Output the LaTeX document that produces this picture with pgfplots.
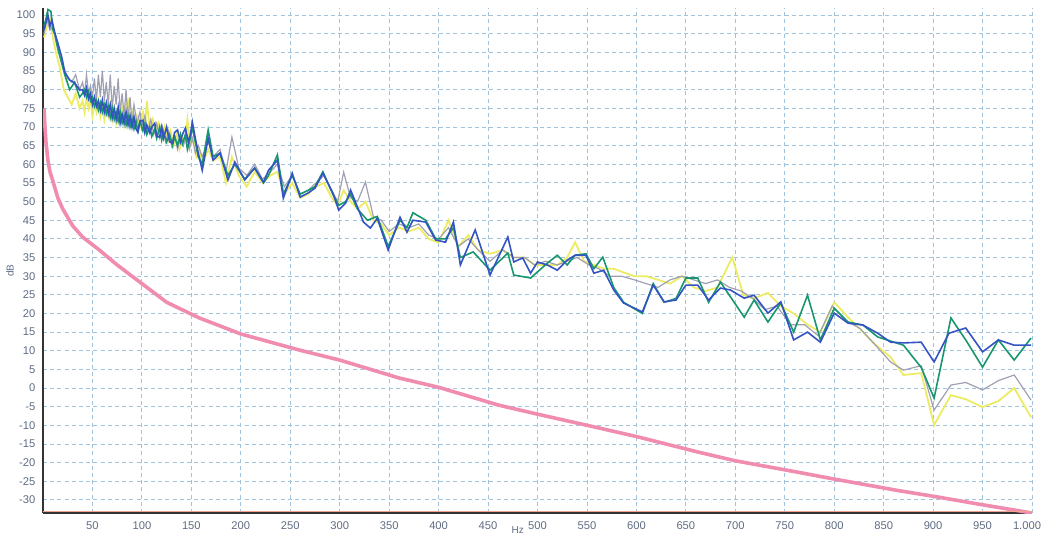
\documentclass[border=0pt]{standalone}
\usepackage{fontspec}
\setmainfont{Liberation Sans}
\usepackage{pgfplots}
\pgfplotsset{compat=1.18}
\definecolor{cblue}{RGB}{52,84,196}
\definecolor{cgreen}{RGB}{24,150,110}
\definecolor{cgray}{RGB}{160,160,178}
\definecolor{cyellow}{RGB}{236,236,100}
\definecolor{cpink}{RGB}{240,140,175}
\definecolor{gridc}{RGB}{160,196,222}
\definecolor{tickc}{RGB}{95,108,132}
\definecolor{salmon}{RGB}{240,160,140}
\begin{document}
\begin{tikzpicture}
\useasboundingbox (0,0) rectangle (521.5pt,267.5pt);
\begin{axis}[
  at={(21.5pt,11pt)}, anchor=south west,
  scale only axis, width=494.5pt, height=252.5pt,
  xmin=0, xmax=1000, ymin=-33.5, ymax=101.9,
  axis x line*=bottom, axis y line*=left,
  axis line style={line width=1.2pt, color=black!80, -},
  xtick={50,100,...,950}, ytick={-30,-25,...,100},
  extra x ticks={1000},
  extra x tick style={xticklabel style={anchor=north, xshift=-2.5pt}},
  major tick length=0pt,
  grid=major,
  grid style={color=gridc, line width=0.45pt, dash pattern=on 2pt off 1.6pt},
  /pgf/number format/1000 sep={.},
  /pgf/number format/assume math mode=true,
  tick label style={font=\fontsize{5.6}{6.5}\selectfont, text=tickc},
  xticklabel style={yshift=-0.8pt},
  yticklabel style={xshift=-0.3pt},
  xlabel={Hz}, ylabel={dB},
  xlabel style={font=\fontsize{5}{6}\selectfont, text=tickc, at={(axis description cs:0.48,0)}, anchor=center, yshift=-8.3pt},
  ylabel style={font=\fontsize{5}{6}\selectfont, text=tickc, at={(axis description cs:-0.0334,0.48)}, anchor=center},
  clip=true,
]
% yellow
\addplot[color=cyellow, line width=0.9pt] coordinates {
(1,94)(4,97)(7,99)(10,94)(13,90)(17,86)(21,80)(25,78)(29,76)(33,79)(37,75)
(40,77)(42,74)(44,78)(46,75)(48,77)(50,73)(52,76)(54,74)(56,77)(58,73)(60,76)(62,72)(64,75)(66,73)(68,76)(70,72)(72,75)(74,71)(76,74)(78,72)(80,75)(82,71)(84,76)(86,77)(88,72)(90,74)(92,70)(95,73)(98,70)(101,74)(103,70)(105,77)(108,69)(111,72)(114,68)(117,71)(120,67)(123,70)(126,66)(129,69)(132,65)(135,68)(138,64)(141,67)(144,66)(146,72)(149,65)(152,67)(155,62)(158,64)
(161,60)(167,64)(172,61)(179,62)(185,55)(191,62)(198,57)(206,54)(214,58)(222,55)(230,57)(237,58)(244,52)(252,55)(260,51)(268,52)(276,54)(284,55)(292,51)(298,49)(304,53)(311,50)(318,48)(326,50)(334,45)(342,44)(350,41)(360,43)(370,42)(380,43)(390,40)(400,39)(410,45)(420,38)(430,41)(440,37)(452,36)(465,37)(476,35)(487,35)(497,33)(508,33)(520,33)(530,35)(538,39.1)(547,34)(557,33)(567,32)(577,32)(587,31)(598,30)(610,30)(622,29)(634,28)(646,30)(658,27)(670,26)(682,27)(697,35.1)(708,25)(718,24)(733,25.5)(746,22)(759,20)(773,17)(786,15)(800,23)(814,19)(829,15)(840,12)(857,8.3)(870,3.5)(888,4)(901,-9.9)(918,-1.9)(933,-3)(950,-5.1)(966,-3.5)(982,0)(999,-7.8)
};
% gray
\addplot[color=cgray, line width=0.6pt] coordinates {
(1,95)(4,99)(7,96)(10,97)(13,93)(17,89)(21,86)(25,83)(29,82)(33,84)(37,80)
(40,82)(42,79)(44,84)(46,79)(48,81)(50,78)(52,83)(54,77)(56,84)(58,78)(60,85)(62,77)(64,82)(66,76)(68,84)(70,75)(72,81)(74,76)(76,83)(78,74)(80,79)(82,73)(84,80)(86,72)(88,78)(90,71)(92,76)(95,71)(98,74)(100,70)(103,73)(106,69)(109,72)(112,68)(115,71)(118,67)(121,70)(124,66)(127,69)(130,65)(133,68)(136,64)(139,67)(142,65)(145,68)(148,64)(151,67)(154,63)(157,65)
(161,62)(167,66)(172,62)(179,64)(185,58)(191,67.3)(198,59)(206,57)(214,60)(222,56)(230,58)(237,60)(244,54)(252,57)(260,52)(268,53)(276,55)(284,57)(292,53)(298,50)(304,57.9)(311,51)(318,50)(326,55.2)(334,46)(342,45)(350,42)(360,44)(370,43)(380,44)(390,41)(400,40)(410,43)(420,38)(430,40)(440,37)(452,34)(465,37)(476,35)(487,35)(497,33)(508,34)(520,33)(530,34)(540,35)(552,33)(562,32)(573,30)(585,30)(598,29)(610,28)(622,27)(634,29)(646,30)(658,29)(670,28)(682,29)(694,27)(706,26)(718,24)(730,21)(742,22)(756,17)(770,17)(784,14)(798,22)(812,18)(826,16)(840,12)(857,7)(870,4.8)(888,6)(901,-5.9)(918,0.8)(933,1.5)(950,-0.5)(966,2)(982,3.5)(999,-3.2)
};
% green
\addplot[color=cgreen, line width=0.8pt] coordinates {
(1,97)(3,99)(5,101.5)(8,101)(10,96)(12,95)(15,91)(19,87)(22,84)(27,80)(32,82)(37,78)
(40,79)(42,80)(44,78)(46,79.5)(48,77)(50,78)(52,75.5)(54,77)(56,74.5)(58,76.5)(60,74)(62,76)(64,73.5)(66,75.5)(68,72.5)(70,75)(72,72)(74,74)(76,71.5)(78,74)(80,71)(82,73)(84,70.5)(86,73)(88,70)(90,72)(92,69.5)(94,71.5)(96,69)(98,71.5)(101,69)(103,71)(105,68)(108,70)(110,67.5)(113,69.5)(115,67)(118,70)(120,66.5)(122,68.5)(125,66)(128,68)(131,65)(133,67.5)(136,65)(139,68)(141,65.5)(144,68)(146,64)(149,67)(151,70)(154,66)(157,62)
(161,60)(167,69.2)(172,62)(179,63)(187,57)(194,60)(204,56)(214,59)(223,55)(228,57)(237,62.5)(243,52)(252,57)(260,52)(268,53)(275,54)(283,58)(293,52)(299,49)(306,50)(311,52)(318,48)(328,45)(338,46)(349,38)(361,45)(368,43)(374,47)(387,45)(397,40)(407,40)(415,43)(422,35)(435,36.5)(452,31.6)(470,36.2)(476,30.3)(493,29.5)(510,33.5)(520,35.6)(530,33)(538,35.6)(549,36)(557,32)(566,35.1)(577,27)(587,23)(606,20)(617,28)(628,23)(640,24)(650,29.5)(662,29.5)(673,23)(685,28.4)(709,19)(719,23.6)(733,17.7)(746,22.8)(759,15)(773,24.9)(786,12.9)(800,21.4)(814,17.7)(829,16.9)(844,13.7)(870,11.5)(888,5.5)(901,-2.7)(918,18.8)(933,12.9)(950,5.6)(966,12.9)(982,7.5)(999,13.4)
};
% blue
\addplot[color=cblue, line width=0.8pt] coordinates {
(1,96)(3,98)(5,100)(7,97)(9,98.7)(12,95.2)(15,92.5)(19,88.7)(22,84.7)(27,82.6)(32,81.8)(37,79.9)
(40,80)(42,78.5)(44,80.5)(46,77.5)(48,79)(50,76)(52,78)(54,75.5)(56,77)(58,74.5)(60,77.2)(62,74)(64,76.5)(66,73.5)(68,76)(70,72.4)(72,75)(74,72)(76,75.3)(78,71)(80,73.5)(82,71)(84,74)(86,70.5)(88,73)(90,70)(92,72.7)(94,69.5)(96,68.6)(98,71.5)(101,71.8)(103,68.5)(105,70.5)(108,68.4)(110,70)(113,71)(115,67.5)(118,67.3)(120,70)(122,67)(125,70)(128,66)(131,65.7)(133,68.5)(136,69.2)(139,66)(141,68)(144,69.7)(147,66)(149,68)(151,71.3)(154,67)(157,63)
(161,58.4)(167,67)(172,61.1)(179,63)(187,55.8)(194,60.6)(204,55.8)(214,59)(223,55.2)(228,58.4)(237,61.1)(243,50.9)(252,57.6)(260,51.2)(268,52.3)(275,53.6)(283,57.6)(293,52.3)(299,47.7)(306,49.6)(311,53.1)(318,48.5)(324,44.5)(331,42.9)(338,45.5)(349,37)(361,45.8)(368,41.8)(374,45)(387,44.5)(397,39.7)(407,39.1)(415,44.5)(422,33)(437,42.4)(452,30.3)(470,40.5)(476,33.8)(485,34.9)(493,30.8)(500,33.8)(510,33)(520,31.6)(530,34.3)(538,35.6)(549,35.6)(557,30.8)(567,31.6)(577,26.3)(587,22.8)(606,20.4)(617,27.6)(628,23.1)(640,23.6)(650,27.6)(662,27.6)(673,23.6)(685,26.8)(695,26.3)(709,24.1)(719,24.9)(733,20.1)(746,23.1)(759,12.9)(773,15)(786,12.3)(800,20.1)(814,17.4)(829,16.9)(844,14.7)(857,12.3)(870,12.1)(888,12.3)(901,7)(916,14.7)(933,16.1)(950,9.7)(966,12.9)(982,11.5)(999,11.5)
};
% pink
\addplot[color=cpink, line width=1.8pt] coordinates {
(1,75)(2,70)(3,66)(5,61)(7,58)(10,55.5)(15,51)(20,48)(30,43.5)(40,40.5)(57,37)(75,33)(100,28)(125,23)(158,18.8)(200,14.5)(259,10.2)(300,7.5)(360,2.7)(400,0.2)(461,-4.6)(500,-7)(562,-10.7)(600,-13)(663,-17.2)(700,-19.5)(766,-22.7)(800,-24.4)(865,-27.5)(900,-29)(950,-31.3)(1000,-33.5)
};
\draw[color=salmon, line width=0.5pt] ([yshift=1pt]rel axis cs:0,0) -- ([yshift=1pt]rel axis cs:1,0);
\end{axis}
\end{tikzpicture}
\end{document}
